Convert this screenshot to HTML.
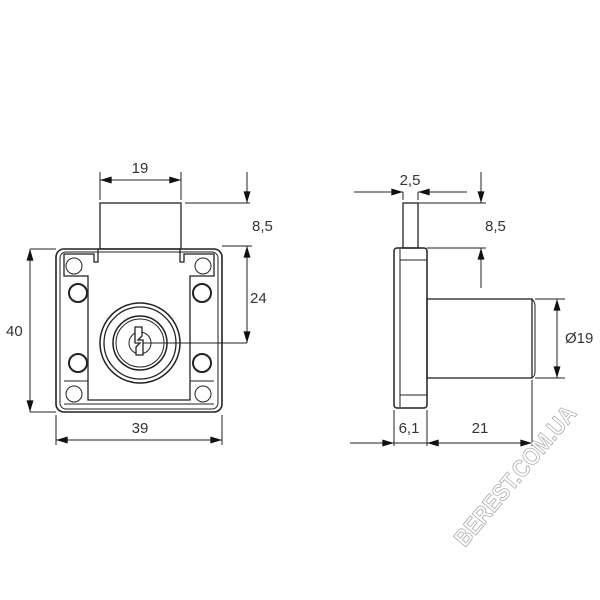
<!DOCTYPE html>
<html><head><style>body{margin:0;background:#fff}svg{display:block}</style></head>
<body>
<svg width="600" height="600" viewBox="0 0 600 600" xmlns="http://www.w3.org/2000/svg" font-family="Liberation Sans, sans-serif">
<defs>
<marker id="a" viewBox="0 0 10 6" refX="10" refY="3" markerWidth="15" markerHeight="7" markerUnits="userSpaceOnUse" orient="auto-start-reverse"><path d="M0,0L10,3L0,6z" fill="#111"/></marker>
</defs>
<g stroke="#222" fill="none" stroke-width="1">
<rect x="100" y="203" width="81" height="46" stroke-width="1.3"/>
<rect x="56" y="249" width="166" height="163" rx="8" stroke-width="1.6"/>
<rect x="60" y="252" width="158" height="157" rx="6"/>
<path d="M98,249 V262 H94 V254 H64 V276 H88 V400 H190 V276 H214 V254 H184 V262 H180 V249" stroke-width="1.3"/>
<path d="M64,381 H88 M190,381 H214 M64,404 H214"/>
<circle cx="74" cy="266" r="8"/><circle cx="203" cy="266" r="8"/>
<circle cx="74" cy="394" r="8"/><circle cx="203" cy="394" r="8"/>
<circle cx="78" cy="293" r="9" stroke-width="2"/><circle cx="202" cy="293" r="9" stroke-width="2"/>
<circle cx="78" cy="363" r="9" stroke-width="2"/><circle cx="202" cy="363" r="9" stroke-width="2"/>
<circle cx="140" cy="343" r="40" stroke-width="1.5"/>
<circle cx="140" cy="343" r="36" stroke-width="1.3"/>
<circle cx="140" cy="343" r="27" stroke-width="1.5"/>
<circle cx="140" cy="343" r="24"/>
<circle cx="140" cy="343" r="11"/>
<path d="M135,327 H142 V336 L138,340 H143 V355 H136 V347 L140,343 H135 Z" fill="#fff" stroke-width="1.3"/>
<path d="M143,343 H247"/>
<path d="M100,200 V172 M181,200 V172 M185,203 H250 M222,246 H252 M30,249 H56 M30,412 H56 M56,415 V445 M222,415 V445"/>
<path d="M100,180 H181" marker-start="url(#a)" marker-end="url(#a)"/>
<path d="M30,249 V412" marker-start="url(#a)" marker-end="url(#a)"/>
<path d="M56,440 H222" marker-start="url(#a)" marker-end="url(#a)"/>
<path d="M247,172 V203" marker-end="url(#a)"/>
<path d="M247,246 V343" marker-start="url(#a)" marker-end="url(#a)"/>
<rect x="403" y="203" width="15" height="45" stroke-width="1.3"/>
<rect x="394" y="248" width="33" height="160" rx="3" stroke-width="1.5"/>
<path d="M400,249 V407 M400,260 H427 M400,395 H427"/>
<rect x="427" y="299" width="105" height="79" stroke-width="1.3"/>
<path d="M532,299 Q535,302 535,306 V372 Q535,376 532,378"/>
<path d="M354,192 H403" marker-end="url(#a)"/>
<path d="M467,192 H418" marker-end="url(#a)"/>
<path d="M403,192 V200 M418,192 V200"/>
<path d="M418,203 H486 M427,248 H486"/>
<path d="M481,172 V203" marker-end="url(#a)"/>
<path d="M481,288 V248" marker-end="url(#a)"/>
<path d="M535,299 H565 M535,378 H565"/>
<path d="M557,299 V378" marker-start="url(#a)" marker-end="url(#a)"/>
<path d="M394,410 V446 M427,410 V446 M532,380 V446"/>
<path d="M350,443 H394" marker-end="url(#a)"/>
<path d="M394,443 H427"/>
<path d="M427,443 H532" marker-start="url(#a)" marker-end="url(#a)"/>
</g>
<g font-size="15" fill="#333">
<text x="140" y="173" text-anchor="middle">19</text>
<text x="252" y="231">8,5</text>
<text x="250" y="303">24</text>
<text x="6" y="336">40</text>
<text x="140" y="433" text-anchor="middle">39</text>
<text x="410" y="185" text-anchor="middle">2,5</text>
<text x="485" y="231">8,5</text>
<text x="565" y="343">Ø19</text>
<text x="409" y="433" text-anchor="middle">6,1</text>
<text x="480" y="433" text-anchor="middle">21</text>
</g>
<text x="0" y="0" transform="translate(465,548) rotate(-50)" font-size="24" font-weight="bold" fill="#fff" stroke="#aaa" stroke-width="0.8" textLength="175" lengthAdjust="spacingAndGlyphs">BEREST.COM.UA</text>
</svg>
</body></html>
